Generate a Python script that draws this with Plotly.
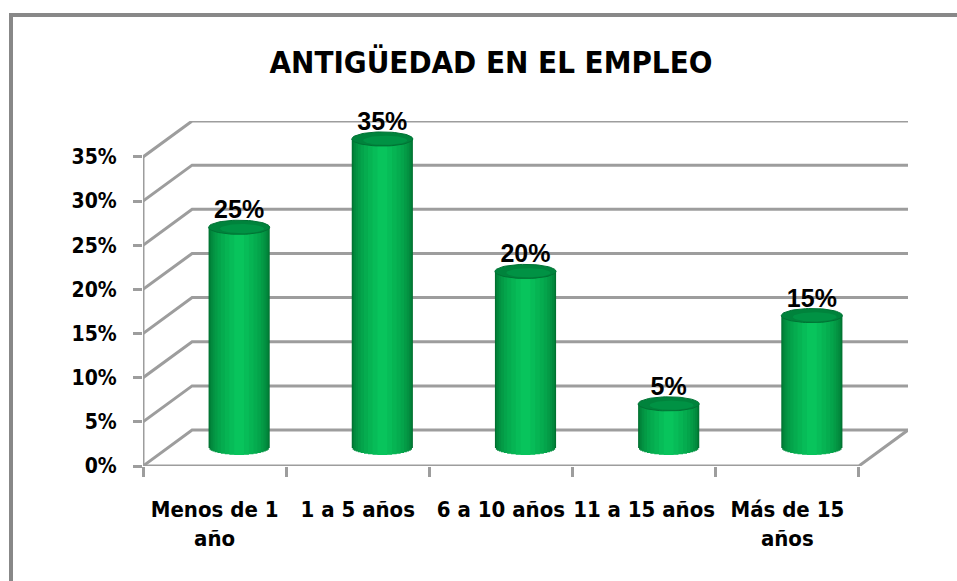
import numpy as np
import plotly.graph_objects as go

# ---------------- data ----------------
categories = ["Menos de 1<br>año", "1 a 5 años", "6 a 10 años", "11 a 15 años", "Más de 15<br>años"]
values = [25, 35, 20, 5, 15]
y_ticks = [0, 5, 10, 15, 20, 25, 30, 35]
y_ticklabels = ["0%", "5%", "10%", "15%", "20%", "25%", "30%", "35%"]
value_labels = ["25%", "35%", "20%", "5%", "15%"]
title_text = "ANTIGÜEDAD EN EL EMPLEO"

# ---------------- pseudo-3D geometry ----------------
n = len(categories)
X0, X1 = -0.5, n - 0.5          # front plane category extent
YMAX = y_ticks[-1]
DX = 0.343                      # depth offset (category units)
DY = 4.07                       # depth offset (percent units)
BAR_W = 0.427                   # cylinder diameter (category units)
ELL_H = 0.8                     # ellipse half-height (percent units)

GRID = "#9d9d9d"
LABEL_FONT = "DejaVu Sans Condensed, DejaVu Sans, sans-serif"

fig = go.Figure()

# back wall gridlines + left wall diagonals
gx, gy = [], []
for v in y_ticks:
    gx += [X0, X0 + DX, X1 + DX, None]
    gy += [v, v + DY, v + DY, None]
fig.add_trace(go.Scatter(x=gx, y=gy, mode="lines", line=dict(color=GRID, width=3),
                         hoverinfo="skip", showlegend=False))
# front axis line and floor edges
fig.add_trace(go.Scatter(x=[X0, X0, None, X0, X1, X1 + DX],
                         y=[YMAX, 0, None, 0, 0, DY],
                         mode="lines", line=dict(color=GRID, width=3),
                         hoverinfo="skip", showlegend=False))

# invisible trace to carry category labels axis
fig.add_trace(go.Scatter(x=list(range(n)), y=[0] * n, xaxis="x3", yaxis="y",
                         mode="markers", marker=dict(opacity=0),
                         hoverinfo="skip", showlegend=False))

# cylinders (nested bars build a horizontal shading gradient)
fracs = [1.0, 0.97, 0.93, 0.87, 0.8, 0.71, 0.6, 0.47, 0.32, 0.16]
edge = np.array([0, 112, 48])
center = np.array([8, 196, 92])
for k, f in enumerate(fracs):
    t = k / (len(fracs) - 1)
    c = edge + (center - edge) * (t ** 0.8)
    color = "rgb(%d,%d,%d)" % tuple(c.astype(int))
    base = -ELL_H * np.sqrt(max(0.0, 1 - f ** 2))
    fig.add_trace(go.Bar(x=list(range(n)), y=[v - base for v in values], base=base,
                         width=BAR_W * f, marker=dict(color=color, line=dict(width=0)),
                         xaxis="x2", yaxis="y2", hoverinfo="skip", showlegend=False))

# top ellipses
th = np.linspace(0, 2 * np.pi, 61)
ex, ey, ix, iy = [], [], [], []
for i, v in enumerate(values):
    ex += list(i + BAR_W / 2 * np.cos(th)) + [None]
    ey += list(v + ELL_H * np.sin(th)) + [None]
    ix += list(i + 0.02 + BAR_W / 2 * 0.72 * np.cos(th)) + [None]
    iy += list(v - 0.15 + ELL_H * 0.65 * np.sin(th)) + [None]
fig.add_trace(go.Scatter(x=ex, y=ey, mode="lines", fill="toself", fillcolor="#00833c",
                         line=dict(color="#007234", width=1), xaxis="x2", yaxis="y2",
                         hoverinfo="skip", showlegend=False))
fig.add_trace(go.Scatter(x=ix, y=iy, mode="lines", fill="toself", fillcolor="#009244",
                         line=dict(width=0), xaxis="x2", yaxis="y2",
                         hoverinfo="skip", showlegend=False))

# value labels
fig.add_trace(go.Scatter(x=list(range(n)), y=[v + ELL_H * 0.4 for v in values], mode="text",
                         text=value_labels, textposition="top center",
                         textfont=dict(family="Liberation Sans, Arial, sans-serif", size=25,
                                       color="black", weight="bold"),
                         xaxis="x2", yaxis="y2", cliponaxis=False,
                         hoverinfo="skip", showlegend=False))

PW, PH = 957 - 143 - 49, 581 - 121 - 115


def px_to_paper_x(px):
    return (px - 143) / PW


def px_to_paper_y(py):
    return (466 - py) / PH


fig.update_layout(
    width=957, height=581, autosize=False,
    margin=dict(l=143, r=49, t=121, b=115, autoexpand=False),
    paper_bgcolor="white", plot_bgcolor="rgba(0,0,0,0)",
    barmode="overlay",
    title=dict(text=title_text, x=0.513, xanchor="center", y=0.893, yanchor="middle",
               yref="container", automargin=False,
               font=dict(family=LABEL_FONT, size=31, color="black", weight="bold")),
    xaxis=dict(range=[X0, X1 + DX], tickvals=[X0 + k for k in range(n + 1)],
               ticktext=[""] * (n + 1), ticks="outside", ticklen=10, tickwidth=3,
               tickcolor=GRID, showgrid=False, zeroline=False, showline=False,
               automargin=False, fixedrange=True),
    yaxis=dict(range=[0, YMAX + DY], tickvals=y_ticks, ticktext=y_ticklabels,
               ticks="outside", ticklen=9, tickwidth=3, tickcolor=GRID,
               ticklabelstandoff=12,
               tickfont=dict(family=LABEL_FONT, size=21, color="black", weight="bold"),
               showgrid=False, zeroline=False, showline=False, automargin=False,
               fixedrange=True),
    xaxis2=dict(range=[X0 - DX / 2, X1 + DX / 2], overlaying="x", anchor="y2",
                visible=False, automargin=False, fixedrange=True),
    yaxis2=dict(range=[-DY / 2, YMAX + DY / 2], overlaying="y", anchor="x2",
                visible=False, automargin=False, fixedrange=True),
    xaxis3=dict(range=[X0, X1 + DX], overlaying="x", anchor="y", side="bottom",
                tickvals=list(range(n)), ticktext=categories, ticks="outside",
                ticklen=24, tickcolor="rgba(0,0,0,0)", tickangle=0,
                tickfont=dict(family=LABEL_FONT, size=22, color="black", weight="bold"),
                showgrid=False, zeroline=False, showline=False, automargin=False,
                fixedrange=True),
    shapes=[
        dict(type="line", xref="paper", yref="paper",
             x0=px_to_paper_x(9), x1=px_to_paper_x(970),
             y0=px_to_paper_y(15), y1=px_to_paper_y(15),
             line=dict(color="#888888", width=4)),
        dict(type="line", xref="paper", yref="paper",
             x0=px_to_paper_x(11), x1=px_to_paper_x(11),
             y0=px_to_paper_y(13), y1=px_to_paper_y(600),
             line=dict(color="#888888", width=4)),
    ],
)

fig.write_html("out.html", config={"displayModeBar": False},
               post_script="document.body.style.margin='0px';document.body.style.overflow='hidden';")
